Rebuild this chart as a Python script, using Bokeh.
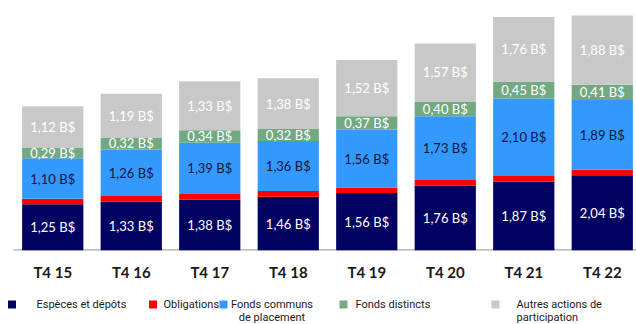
from bokeh.plotting import figure
from bokeh.models import ColumnDataSource, Range1d, FixedTicker
from bokeh.layouts import column
from bokeh.core.properties import value
from bokeh.embed import file_html
from bokeh.resources import INLINE

categories = ["T4 15", "T4 16", "T4 17", "T4 18", "T4 19", "T4 20", "T4 21", "T4 22"]
especes = [1.25, 1.33, 1.38, 1.46, 1.56, 1.76, 1.87, 2.04]
obligations = [0.15, 0.15, 0.15, 0.15, 0.15, 0.15, 0.15, 0.15]
fonds_communs = [1.10, 1.26, 1.39, 1.36, 1.56, 1.73, 2.10, 1.89]
fonds_distincts = [0.29, 0.32, 0.34, 0.32, 0.37, 0.40, 0.45, 0.41]
autres = [1.12, 1.19, 1.33, 1.38, 1.52, 1.57, 1.76, 1.88]

series_names = ["Espèces et dépôts", "Obligations", "Fonds communs\nde placement",
                "Fonds distincts", "Autres actions de\nparticipation"]
series_values = [especes, obligations, fonds_communs, fonds_distincts, autres]
series_colors = ["#020262", "#ff0000", "#3399ff", "#72a882", "#c8c8c8"]
label_colors = ["#ffffff", None, "#14143a", "#ffffff", "#ffffff"]

FONT = "Lato"
xs = list(range(len(categories)))
x_start = -0.6656
x_end = 7.436

p = figure(output_backend="svg", toolbar_location=None,
           frame_width=636, frame_height=250,
           x_range=Range1d(x_start, x_end), y_range=Range1d(0, 6.775),
           min_border_left=0, min_border_right=0, min_border_top=0,
           min_border_bottom=40, outline_line_color=None,
           background_fill_color="white", border_fill_color="white")
p.grid.visible = False
p.yaxis.visible = False

# baseline starting at the left edge of the first category slot
p.line(x=[xs[0] - 0.5, x_end], y=[0, 0], line_color="#a8a8a8", line_width=2.4)

bottom = [0.0] * len(categories)
for vals, col, lcol in zip(series_values, series_colors, label_colors):
    top = [b + v for b, v in zip(bottom, vals)]
    src = ColumnDataSource(dict(
        x=xs, bottom=bottom, top=top,
        mid=[(b + t) / 2 for b, t in zip(bottom, top)],
        lab=[f"{v:.2f}".replace(".", ",") + " B$" for v in vals]))
    p.vbar(x="x", bottom="bottom", top="top", width=0.78, source=src,
           fill_color=col, line_color=None)
    if lcol is not None:
        p.text(x="x", y="mid", text="lab", source=src, text_align="center",
               text_baseline="middle", text_color=lcol,
               text_font=value(FONT), text_font_size="13px")
    bottom = top

ax = p.xaxis[0]
ax.ticker = FixedTicker(ticks=xs)
ax.major_label_overrides = {i: c for i, c in zip(xs, categories)}
ax.major_tick_line_color = None
ax.minor_tick_line_color = None
ax.axis_line_color = None
ax.major_label_standoff = 6
ax.major_label_text_font = FONT
ax.major_label_text_font_style = "bold"
ax.major_label_text_font_size = "15px"
ax.major_label_text_color = "#1a1a1a"

# Legend strip
leg_h = 34
lg = figure(output_backend="svg", toolbar_location=None,
            frame_width=636, frame_height=leg_h,
            x_range=Range1d(0, 636), y_range=Range1d(leg_h, 0),
            min_border=0, outline_line_color=None,
            background_fill_color="white", border_fill_color="white")
lg.axis.visible = False
lg.grid.visible = False

swatch_x = [11.5, 152.5, 223, 343, 495]
text_x = [36, 163, 271.5, 355, 516]
text_align = ["left", "left", "center", "left", "left"]
for name, col, sx, tx, al in zip(series_names, series_colors, swatch_x, text_x, text_align):
    lg.rect(x=[sx], y=[14], width=8, height=8, fill_color=col, line_color=None)
    lg.text(x=[tx], y=[7], text=[name], text_align=al, text_baseline="top",
            text_color="#1a1a1a", text_font=value("Roboto"),
            text_font_size="11px", text_line_height=1.0)

layout = column(p, lg, spacing=0)
open("out.html", "w").write(file_html(layout, INLINE))
